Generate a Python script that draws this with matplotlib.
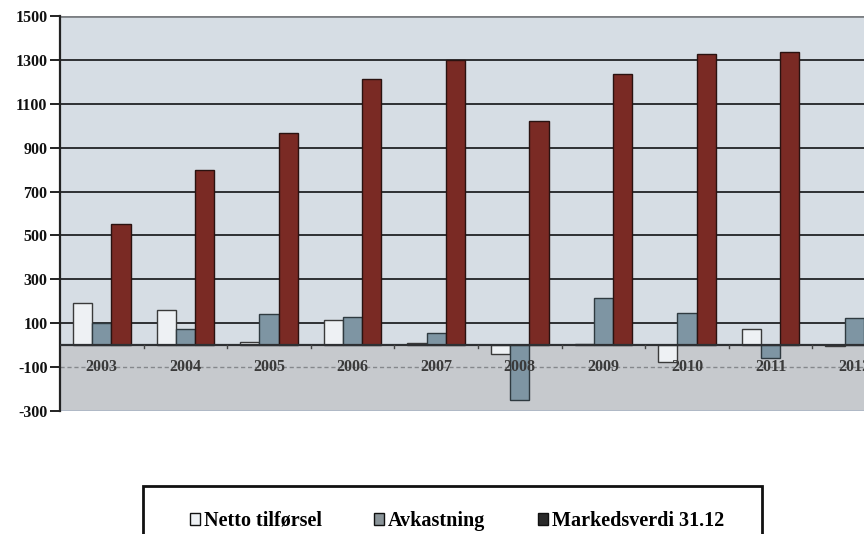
import matplotlib
matplotlib.use("Agg")
import matplotlib.pyplot as plt
import numpy as np
from matplotlib.patches import Rectangle, Patch

# Data
years = ["2003", "2004", "2005", "2006", "2007", "2008", "2009", "2010", "2011", "2012"]
netto_tilforsel = [190, 160, 15, 115, 10, -40, 4, -75, 75, -5]
avkastning = [100, 75, 140, 130, 55, -250, 215, 145, -60, 125]
markedsverdi = [550, 800, 965, 1215, 1300, 1020, 1235, 1325, 1335, np.nan]
series_names = ["Netto tilførsel", "Avkastning", "Markedsverdi 31.12"]
y_ticks = [-300, -100, 100, 300, 500, 700, 900, 1100, 1300, 1500]

# Farben
col_netto = "#eef1f4"
col_avk = "#7e95a3"
col_mv = "#7a2a24"
bg_upper = "#d6dde4"
bg_lower = "#c6c9cd"
grid_col = "#2e3033"

plt.rcParams["font.family"] = ["Liberation Serif", "DejaVu Serif"]

fig = plt.figure(figsize=(8.64, 5.34), dpi=100)
# Plotbereich ragt rechts über das Bild hinaus (gescannt/abgeschnitten)
ax = fig.add_axes([60 / 864, 1 - 411 / 534, 836 / 864, 395 / 534])
ax.set_facecolor(bg_upper)
ax.set_xlim(-0.5, len(years) - 0.5)
ax.set_ylim(y_ticks[0], y_ticks[-1])
ax.axhspan(y_ticks[0], 0, color=bg_lower, zorder=0)

# Gitterlinien
for t in y_ticks[1:]:
    if t < 0:
        ax.axhline(t, color="#85888c", lw=1.0, ls=(0, (3, 2)), zorder=1)
    else:
        ax.axhline(t, color=grid_col, lw=1.4, zorder=1)
ax.axhline(y_ticks[-1], color="#7c7f83", lw=2.0, zorder=1)
ax.axhline(y_ticks[0], color="#aeb8c6", lw=2.0, zorder=1)

x = np.arange(len(years))
w = 0.23
ax.bar(x - w, netto_tilforsel, w, color=col_netto, edgecolor="#3a3a3a", lw=1.0, zorder=3)
ax.bar(x, avkastning, w, color=col_avk, edgecolor="#2f3a40", lw=1.0, zorder=3)
ax.bar(x + w, markedsverdi, w, color=col_mv, edgecolor="#2a1210", lw=1.0, zorder=3)

ax.axhline(0, color=grid_col, lw=1.6, zorder=4)

# Achsen
for s in ["top", "right", "bottom"]:
    ax.spines[s].set_visible(False)
ax.spines["left"].set_color("#222222")
ax.spines["left"].set_linewidth(1.6)

ax.set_yticks(y_ticks)
ax.set_yticklabels([str(t) for t in y_ticks], fontsize=11.5, fontweight="bold", color="#111111")
ax.tick_params(axis="y", length=7, width=1.4, color="#222222", pad=2)
ax.set_xticks([])

# kleine Trennstriche zwischen den Kategorien unter der Nulllinie
for xi in x[:-1] + 0.5:
    ax.plot([xi, xi], [0, -12], color="#444444", lw=1.0, zorder=4, clip_on=False)

for xi, lab in zip(x, years):
    ax.text(xi, -100, lab, ha="center", va="center", fontsize=11.5, fontweight="bold",
            color="#3a3a3a", zorder=5)

# Legende mit eigenem Rahmen
fig.patches.append(Rectangle((143 / 864, -0.05), 619 / 864, 0.05 + (534 - 486) / 534,
                             transform=fig.transFigure, fill=False, edgecolor="#111111",
                             lw=2.0))
handles = [Patch(facecolor=col_netto, edgecolor="#111111", lw=1.0),
           Patch(facecolor="#8a9499", edgecolor="#111111", lw=1.0),
           Patch(facecolor="#2a2a2a", edgecolor="#111111", lw=1.0)]
fig.legend(handles, series_names, loc="center", bbox_to_anchor=(457 / 864, 1 - 521 / 534),
           ncol=3, frameon=False, handlelength=0.5, handleheight=0.5, handletextpad=0.2,
           columnspacing=2.6, prop={"weight": "bold", "size": 14.5})

fig.savefig("out.png", dpi=100)
